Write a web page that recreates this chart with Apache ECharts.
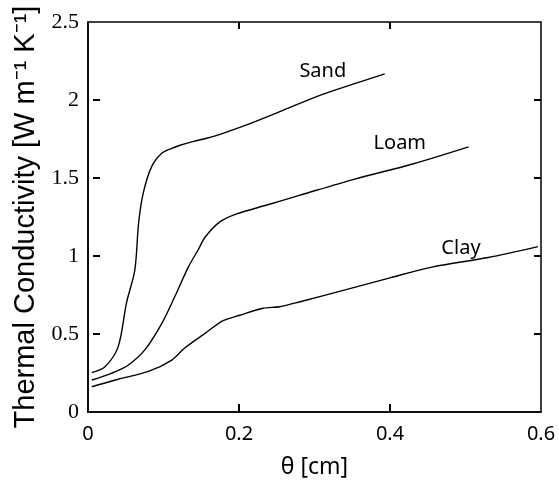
<!DOCTYPE html>
<html>
<head>
<meta charset="utf-8">
<script src="https://cdn.jsdelivr.net/npm/echarts@6/dist/echarts.min.js"></script>
<style>html,body{margin:0;padding:0;background:#fff}#c{width:559px;height:485px}</style>
</head>
<body>
<div id="c"></div>
<script>
const sandX = [0.005,0.0225,0.040,0.051,0.062,0.067,0.073,0.084,0.098,0.111,0.122,0.140,0.157,0.175,0.210,0.254,0.307,0.350,0.393];
const sandY = [0.252,0.29,0.419,0.70,0.91,1.21,1.40,1.57,1.66,1.69,1.71,1.735,1.755,1.78,1.84,1.925,2.03,2.10,2.167];
const loamX = [0.005,0.031,0.053,0.0755,0.098,0.115,0.133,0.146,0.155,0.175,0.197,0.237,0.281,0.351,0.430,0.504];
const loamY = [0.205,0.248,0.30,0.40,0.57,0.74,0.93,1.04,1.12,1.22,1.27,1.327,1.39,1.49,1.59,1.70];
const clayX = [0.005,0.040,0.080,0.111,0.128,0.155,0.179,0.201,0.232,0.254,0.281,0.343,0.400,0.457,0.530,0.596];
const clayY = [0.162,0.21,0.26,0.333,0.41,0.504,0.585,0.62,0.665,0.675,0.707,0.786,0.86,0.93,0.99,1.06];
const seriesNames = ['Sand','Loam','Clay'];
const labelAt = [[0.311,2.186],[0.413,1.724],[0.494,1.051]];
const xTicks = [0,0.2,0.4,0.6];
const yTicks = [0,0.5,1,1.5,2,2.5];

const zip = (xs, ys) => xs.map((x,i)=>[x,ys[i]]);
const datas = [zip(sandX,sandY), zip(loamX,loamY), zip(clayX,clayY)];
const sans = '"Noto Sans", "Open Sans", sans-serif';

// frame tick marks (interior ticks only), side: 0 bottom, 1 top, 2 left, 3 right
const innerX = xTicks.slice(1,-1), innerY = yTicks.slice(1,-1);
const tickData = [];
innerX.forEach(v=>{ tickData.push([v,0,0]); tickData.push([v,0,1]); });
innerY.forEach(v=>{ tickData.push([0,v,2]); tickData.push([0,v,3]); });

function renderTick(params, api){
  const cs = params.coordSys;
  const side = api.value(2);
  const p = api.coord([api.value(0), api.value(1)]);
  let s;
  if (side===0) s = {x1:p[0],y1:cs.y+cs.height,x2:p[0],y2:cs.y+cs.height-8};
  else if (side===1) s = {x1:p[0],y1:cs.y,x2:p[0],y2:cs.y+7};
  else if (side===2) s = {x1:cs.x+5,y1:p[1],x2:cs.x+12,y2:p[1]};
  else s = {x1:cs.x+cs.width,y1:p[1],x2:cs.x+cs.width-7,y2:p[1]};
  return {type:'line',shape:s,style:{stroke:'#000',lineWidth:2}};
}

const chart = echarts.init(document.getElementById('c'));
chart.setOption({
  animation:false,
  backgroundColor:'#fff',
  grid:{left:88,right:18,top:22,bottom:73,show:true,borderColor:'#000',borderWidth:1.5,backgroundColor:'transparent'},
  xAxis:{type:'value',min:0,max:0.6,interval:0.2,
     name:'θ [cm]',nameLocation:'middle',nameGap:44,
     nameTextStyle:{fontFamily:sans,fontSize:23,color:'#000'},
     axisLine:{show:true,lineStyle:{color:'#000',width:1.5}},
     axisTick:{show:false},
     axisLabel:{fontFamily:sans,fontSize:20,color:'#000',margin:12},
     splitLine:{show:false}},
  yAxis:{type:'value',min:0,max:2.5,interval:0.5,
     name:'Thermal Conductivity [W m⁻¹ K⁻¹]',nameLocation:'middle',nameGap:47,
     nameTextStyle:{fontFamily:'"Liberation Sans", Arial, sans-serif',fontSize:29,color:'#000'},
     axisLine:{show:true,lineStyle:{color:'#000',width:1.5}},
     axisTick:{show:false},
     axisLabel:{fontFamily:'"Liberation Serif", "Times New Roman", serif',fontSize:22,color:'#000',margin:9},
     splitLine:{show:false}},
  series: datas.map((d,i)=>({
    type:'line',name:seriesNames[i],data:d,
    showSymbol:false,smooth:0.3,
    lineStyle:{color:'#000',width:1.4},
    markPoint:{symbol:'circle',symbolSize:0,silent:true,
      data:[{coord:labelAt[i],value:seriesNames[i]}],
      label:{show:true,position:'inside',formatter:seriesNames[i],fontFamily:sans,fontSize:20,color:'#000'}}
  })).concat([{
    type:'custom',name:'ticks',data:tickData,renderItem:renderTick,
    encode:{x:0,y:1},clip:false,silent:true,z:5
  }])
});
</script>
</body>
</html>
